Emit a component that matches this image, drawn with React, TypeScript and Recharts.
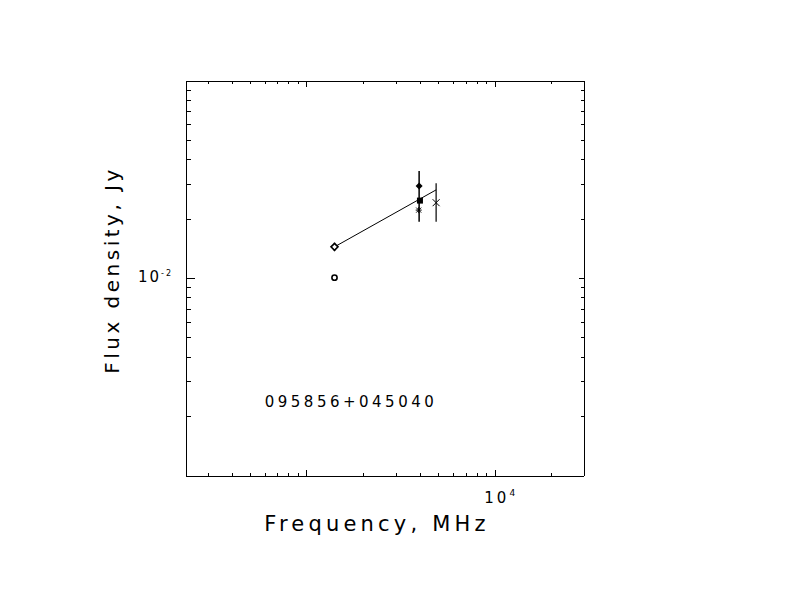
import { ScatterChart, Scatter, XAxis, YAxis, ErrorBar } from 'recharts';

// frequency (MHz) / flux density (Jy) readings
const FREQ_TICKS = [300, 400, 500, 600, 700, 800, 900, 1000, 2000, 3000, 4000, 5000, 6000, 7000, 8000, 9000, 10000, 20000];
const FLUX_TICKS = [0.002, 0.003, 0.004, 0.005, 0.006, 0.007, 0.008, 0.009, 0.01, 0.02, 0.03, 0.04, 0.05, 0.06, 0.07, 0.08, 0.09];
const FREQ_MAJOR = [1000, 10000];
const FLUX_MAJOR = [0.01];

const openDiamond = [{ x: 1400, y: 0.01446, err: [0.0007, 0.0007] }];
const openCircle = [{ x: 1400, y: 0.0101 }];
const filledDiamond = [{ x: 3940, y: 0.0294, err: [0.0100, 0.0056] }];
const filledSquare = [{ x: 3980, y: 0.0248 }];
const asterisk = [{ x: 3920, y: 0.0222 }];
const cross = [{ x: 4850, y: 0.0242, err: [0.0048, 0.0062] }];
const fitX = [1400, 4850];
const fitY = [0.01446, 0.0281];

const fitLine = fitX.map((x, i) => ({ x, y: fitY[i] }));

const FONT = '"DejaVu Sans", sans-serif';

const OpenDiamond = ({ cx, cy }: any) => (
  <path d={`M${cx},${cy - 3.5}L${cx + 3.5},${cy}L${cx},${cy + 3.5}L${cx - 3.5},${cy}Z`} fill="#fff" stroke="#000" strokeWidth={1.6} />
);
const OpenCircle = ({ cx, cy }: any) => <circle cx={cx} cy={cy} r={2.6} fill="#fff" stroke="#000" strokeWidth={1.6} />;
const FilledDiamond = ({ cx, cy }: any) => (
  <path d={`M${cx},${cy - 3.5}L${cx + 3.5},${cy}L${cx},${cy + 3.5}L${cx - 3.5},${cy}Z`} fill="#000" />
);
const FilledSquare = ({ cx, cy }: any) => <rect x={cx - 3} y={cy - 3} width={6} height={6} fill="#000" />;
const Asterisk = ({ cx, cy }: any) => (
  <g stroke="#000" strokeWidth={1}>
    <line x1={cx - 3} y1={cy} x2={cx + 3} y2={cy} />
    <line x1={cx} y1={cy - 3} x2={cx} y2={cy + 3} />
    <line x1={cx - 2.5} y1={cy - 2.5} x2={cx + 2.5} y2={cy + 2.5} />
    <line x1={cx - 2.5} y1={cy + 2.5} x2={cx + 2.5} y2={cy - 2.5} />
  </g>
);
const Cross = ({ cx, cy }: any) => (
  <g stroke="#000" strokeWidth={1}>
    <line x1={cx - 3.5} y1={cy - 3.5} x2={cx + 3.5} y2={cy + 3.5} />
    <line x1={cx - 3.5} y1={cy + 3.5} x2={cx + 3.5} y2={cy - 3.5} />
  </g>
);
const NoShape = () => <g />;

const makeTick = (side: 'bottom' | 'top' | 'left' | 'right', major: number[], minorLen: number, majorLen: number, showLabel: boolean) =>
  (props: any) => {
    const { x, y, payload } = props;
    const isMajor = major.includes(payload.value);
    const len = isMajor ? majorLen : minorLen;
    let line;
    if (side === 'bottom') line = <line x1={x} y1={y} x2={x} y2={y - len} />;
    else if (side === 'top') line = <line x1={x} y1={y} x2={x} y2={y + len} />;
    else if (side === 'left') line = <line x1={x} y1={y} x2={x + len} y2={y} />;
    else line = <line x1={x} y1={y} x2={x - len} y2={y} />;
    let label = null;
    if (showLabel && isMajor && side === 'bottom' && payload.value === 10000) {
      label = (
        <text x={x - 11} y={y + 27} fontSize={15} fontFamily={FONT} letterSpacing={3} fill="#000" stroke="none">
          10<tspan dy={-7} fontSize={9}>4</tspan>
        </text>
      );
    }
    if (showLabel && isMajor && side === 'left') {
      label = (
        <text x={x - 13} y={y + 3} fontSize={15} fontFamily={FONT} letterSpacing={2} textAnchor="end" fill="#000" stroke="none">
          10<tspan dy={-6} fontSize={8}>-2</tspan>
        </text>
      );
    }
    return (
      <g stroke="#000" strokeWidth={1} shapeRendering="crispEdges">
        {line}
        {label}
      </g>
    );
  };

const AXIS_LINE = { stroke: '#000', strokeWidth: 1, shapeRendering: 'crispEdges' };

export default function App() {
  return (
    <div style={{ width: 776, height: 596, position: 'relative' }}>
      <ScatterChart width={776} height={596} margin={{ top: 72, right: 199, bottom: 127, left: 177 }}>
        <XAxis
          xAxisId={0}
          dataKey="x"
          type="number"
          scale="log"
          domain={[227.8, 29580]}
          allowDataOverflow
          ticks={FREQ_TICKS}
          interval={0}
          height={1}
          tickSize={0}
          tickMargin={0}
          tickLine={false}
          axisLine={AXIS_LINE}
          tick={makeTick('bottom', FREQ_MAJOR, 3, 6, true)}
        />
        <XAxis
          xAxisId="top"
          orientation="top"
          dataKey="x"
          type="number"
          scale="log"
          domain={[227.8, 29580]}
          allowDataOverflow
          ticks={FREQ_TICKS}
          interval={0}
          height={1}
          tickSize={0}
          tickMargin={0}
          tickLine={false}
          axisLine={AXIS_LINE}
          tick={makeTick('top', FREQ_MAJOR, 3, 6, false)}
        />
        <YAxis
          yAxisId={0}
          dataKey="y"
          type="number"
          scale="log"
          domain={[0.001, 0.1]}
          allowDataOverflow
          ticks={FLUX_TICKS}
          interval={0}
          width={1}
          tickSize={0}
          tickMargin={0}
          tickLine={false}
          axisLine={AXIS_LINE}
          tick={makeTick('left', FLUX_MAJOR, 5, 9, true)}
        />
        <YAxis
          yAxisId="right"
          orientation="right"
          dataKey="y"
          type="number"
          scale="log"
          domain={[0.001, 0.1]}
          allowDataOverflow
          ticks={FLUX_TICKS}
          interval={0}
          width={1}
          tickSize={0}
          tickMargin={0}
          tickLine={false}
          axisLine={AXIS_LINE}
          tick={makeTick('right', FLUX_MAJOR, 3, 5, false)}
        />
        <Scatter data={fitLine} line={{ stroke: '#000', strokeWidth: 1 }} shape={NoShape} isAnimationActive={false} />
        <Scatter data={openDiamond} shape={OpenDiamond} isAnimationActive={false}>
          <ErrorBar dataKey="err" direction="y" width={0} stroke="#000" strokeWidth={1.5} />
        </Scatter>
        <Scatter data={openCircle} shape={OpenCircle} isAnimationActive={false} />
        <Scatter data={filledDiamond} shape={FilledDiamond} isAnimationActive={false}>
          <ErrorBar dataKey="err" direction="y" width={0} stroke="#000" strokeWidth={1.5} />
        </Scatter>
        <Scatter data={filledSquare} shape={FilledSquare} isAnimationActive={false} />
        <Scatter data={asterisk} shape={Asterisk} isAnimationActive={false} />
        <Scatter data={cross} shape={Cross} isAnimationActive={false}>
          <ErrorBar dataKey="err" direction="y" width={0} stroke="#000" strokeWidth={1.2} />
        </Scatter>
      </ScatterChart>
      <svg width={776} height={596} style={{ position: 'absolute', left: 0, top: 0, pointerEvents: 'none' }}>
        <text x={369} y={523} textAnchor="middle" fontSize={21} fontFamily={FONT} letterSpacing={4.2} fill="#000">
          Frequency, MHz
        </text>
        <text x={111} y={262} textAnchor="middle" fontSize={20} fontFamily={FONT} letterSpacing={3.5} fill="#000" transform="rotate(-90 111 262)">
          Flux density, Jy
        </text>
        <text x={343} y={399} textAnchor="middle" fontSize={15} fontFamily={FONT} letterSpacing={3.5} fill="#000">
          095856+045040
        </text>
      </svg>
    </div>
  );
}
